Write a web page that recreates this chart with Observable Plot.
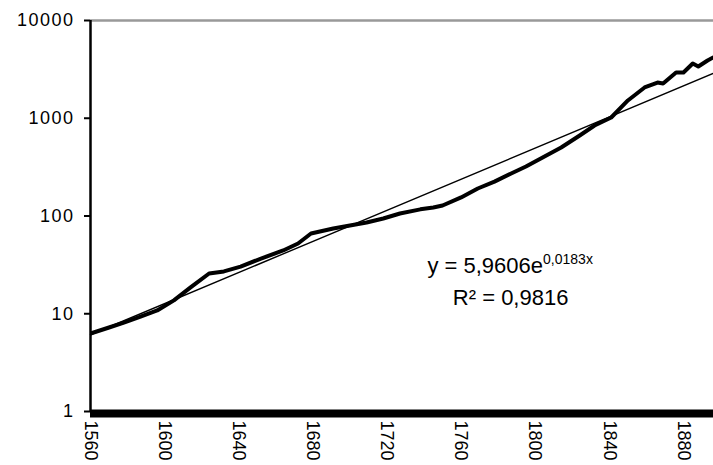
<!DOCTYPE html>
<html>
<head>
<meta charset="utf-8">
<script src="https://cdn.jsdelivr.net/npm/d3@7"></script>
<script src="https://cdn.jsdelivr.net/npm/@observablehq/plot@0.6"></script>
<style>
  html, body { margin: 0; padding: 0; background: #fff; }
  #chart svg { display: block; }
  g[aria-label="y-axis tick label"] text { letter-spacing: 1.5px; }
</style>
</head>
<body>
<div id="chart"></div>
<script>
// Observed series (thick line)
const years = [1560,1570,1578,1587,1596,1605,1614,1624,1632,1641,1652,1664,1672,1679,1691,1700,1709,1718,1727,1738,1745,1750,1760,1769,1778,1787,1795,1804,1814,1824,1832,1841,1850,1859,1866,1869,1876,1880,1885,1888,1893,1896];
const values = [6.28,7.23,8.13,9.37,10.8,13.7,18.6,25.8,27.1,30.4,36.7,44.4,52.3,66.2,74.5,80,85.8,94.3,106,117,122,128,155,191,225,272,321,397,502,666,843,1018,1520,2064,2320,2267,2940,2940,3630,3383,3897,4180];

// Exponential trend line (straight on the log scale), endpoints
const trendYears = [1560, 1896];
const trendValues = [6.1, 2870];

// Axis ticks
const yTicks = [1, 10, 100, 1000, 10000];
const xTicks = [1560, 1600, 1640, 1680, 1720, 1760, 1800, 1840, 1880];

// Trend equation text
const eqMain = "y = 5,9606e";
const eqSup = "0,0183x";
const eqR2 = "R\u00B2 = 0,9816";

const series = years.map((y, i) => ({year: y, value: values[i]}));
const trend = trendYears.map((y, i) => ({year: y, value: trendValues[i]}));

const chart = Plot.plot({
  width: 713,
  height: 465,
  marginLeft: 90,
  marginRight: 0,
  marginTop: 20,
  marginBottom: 54,
  style: {fontFamily: "'Liberation Sans', Arial, sans-serif", fontSize: "18px", background: "#fff", color: "#000"},
  x: {domain: [1560, 1896.2], type: "linear"},
  y: {type: "log", domain: [1, 10000]},
  marks: [
    Plot.ruleY([10000], {stroke: "#999", strokeWidth: 2.5}),
    Plot.line(trend, {x: "year", y: "value", stroke: "#000", strokeWidth: 1.4}),
    Plot.line(series, {x: "year", y: "value", stroke: "#000", strokeWidth: 4, strokeLinejoin: "round", clip: true}),
    Plot.ruleY([1], {stroke: "#000", strokeWidth: 8, dy: 2}),
    Plot.ruleX([1560], {stroke: "#000", strokeWidth: 2.5}),
    Plot.axisY({ticks: yTicks, tickSize: 6, tickPadding: 10, tickFormat: d => String(d), label: null, fontSize: 18, stroke: "#000", strokeWidth: 2, color: "#000"}),
    Plot.axisX({ticks: xTicks, tickSize: 0, tickPadding: 9, tickRotate: 90, tickFormat: d => String(d), label: null, fontSize: 18, color: "#000"})
  ]
});

document.getElementById("chart").appendChild(chart);

// Equation annotation with superscripts
const sx = chart.scale("x"), sy = chart.scale("y");
const svg = d3.select(chart);
const eqX = sx.apply(1804.5);
const eqY = sy.apply(25.8);
const g = svg.append("g").attr("font-family", "'Liberation Sans', Arial, sans-serif").attr("fill", "#000");
g.append("text").attr("x", eqX).attr("y", eqY).attr("font-size", 22).attr("text-anchor", "end").text(eqMain);
g.append("text").attr("x", eqX).attr("y", eqY - 9).attr("font-size", 14).attr("text-anchor", "start").text(eqSup);
g.append("text").attr("x", sx.apply(1787)).attr("y", sy.apply(12.2)).attr("font-size", 22).attr("text-anchor", "middle").text(eqR2);
</script>
</body>
</html>
